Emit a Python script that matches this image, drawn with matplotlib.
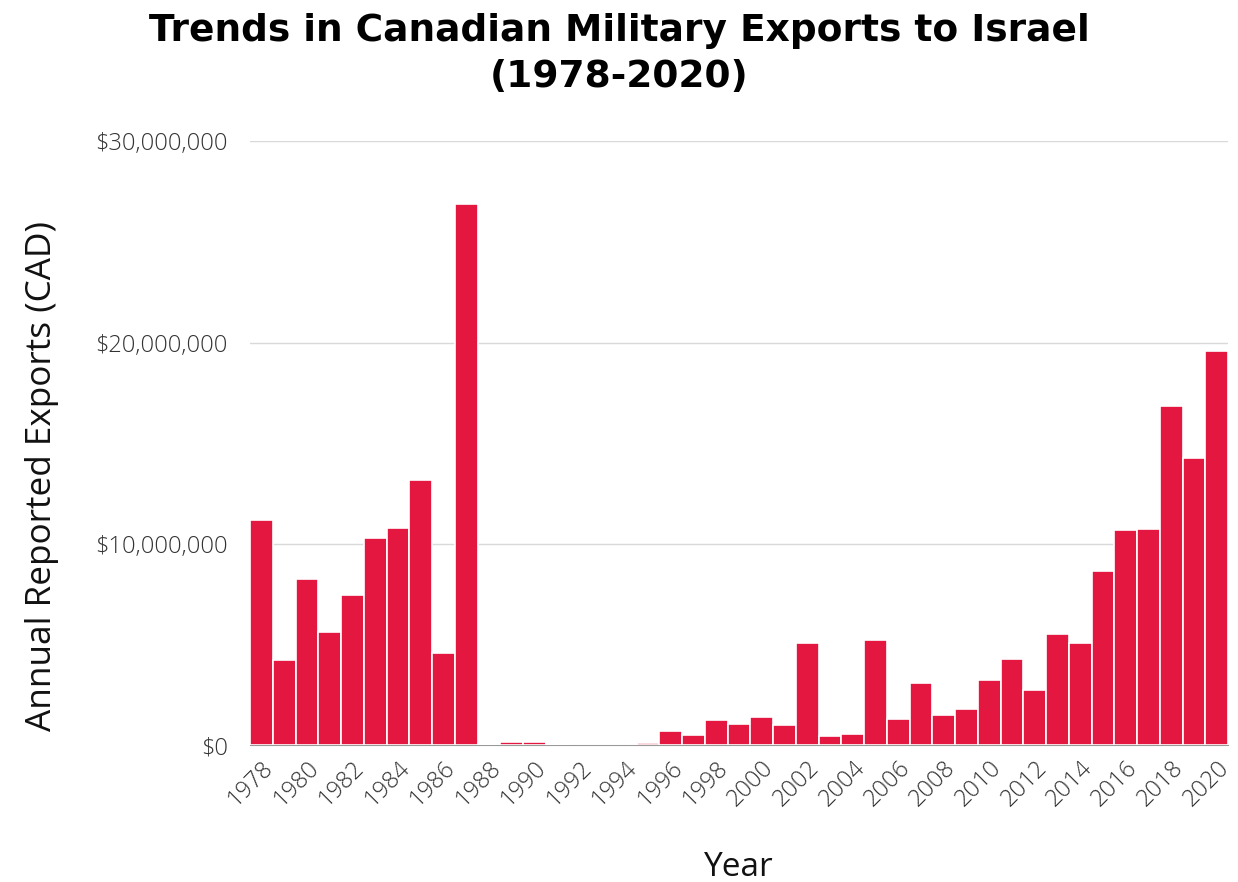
import matplotlib
matplotlib.use("Agg")
import matplotlib.pyplot as plt
import matplotlib.ticker as mticker
import numpy as np

years = np.arange(1978, 2021)
exports_millions = [
    11.19, 4.23, 8.26, 5.62, 7.46, 10.3, 10.8, 13.18, 4.58, 26.9,
    0.05, 0.15, 0.15, 0.05, 0.0, 0.0, 0.0, 0.1, 0.7, 0.5,
    1.24, 1.05, 1.39, 1.0, 5.07, 0.45, 0.55, 5.22, 1.29, 3.08,
    1.49, 1.79, 3.23, 4.28, 2.74, 5.52, 5.07, 8.66, 10.7, 10.75,
    16.87, 14.28, 19.6,
]
exports = np.array(exports_millions) * 1e6
tick_years = years[::2]

fig = plt.figure(figsize=(12.38, 8.82), dpi=100)
ax = fig.add_axes([0.202, 0.155, 0.79, 0.685])

ax.bar(years, exports, width=1.0, color="#E31740", edgecolor="white", linewidth=1.2, zorder=3)

ax.set_xlim(1977.5, 2020.5)
ax.set_ylim(0, 30e6)
ax.yaxis.set_major_locator(mticker.MultipleLocator(10e6))
ax.yaxis.set_major_formatter(mticker.FuncFormatter(lambda v, p: f"${v:,.0f}"))
ax.grid(axis="y", color="#d9d9d9", linewidth=1, zorder=0)
ax.set_xticks(tick_years)
ax.set_xticklabels([str(y) for y in tick_years], rotation=45, ha="right",
                   rotation_mode="anchor")

for s in ["top", "right", "left"]:
    ax.spines[s].set_visible(False)
ax.spines["bottom"].set_color("#999999")
ax.tick_params(axis="both", length=0, labelcolor="#333333")
for lab in ax.get_yticklabels() + ax.get_xticklabels():
    lab.set_fontfamily("Open Sans")
    lab.set_fontweight("light")
    lab.set_fontsize(17)
ax.tick_params(axis="y", pad=16)
ax.tick_params(axis="x", pad=8)

ax.set_ylabel("Annual Reported Exports (CAD)", fontsize=25.3, family="Open Sans",
              color="#111111")
ax.yaxis.set_label_coords(-0.195, 0.445)
ax.set_xlabel("Year", fontsize=24, family="Open Sans", color="#111111")
ax.xaxis.set_label_coords(0.5, -0.175)

fig.suptitle("Trends in Canadian Military Exports to Israel\n(1978-2020)",
             fontsize=27, fontweight="bold", family="DejaVu Sans", y=0.985,
             linespacing=1.35)

fig.savefig("out.png", dpi=100)
